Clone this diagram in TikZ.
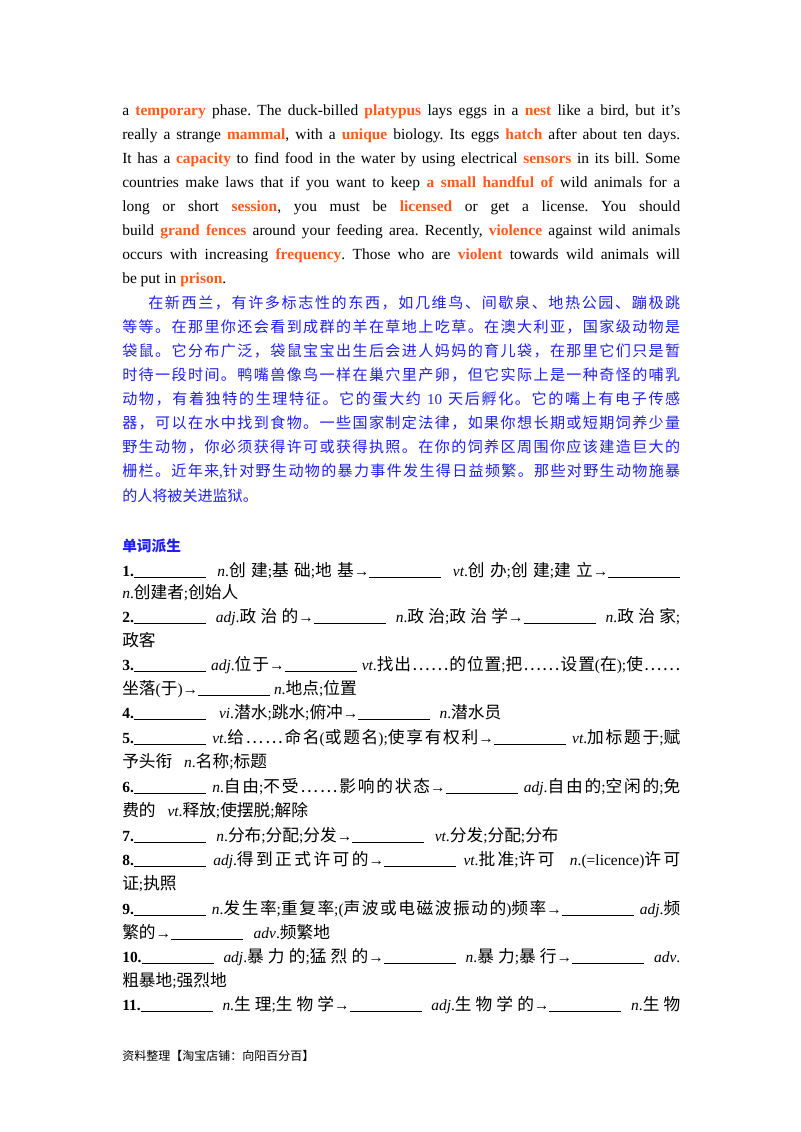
\documentclass[tikz,border=0pt]{standalone}
\usepackage{fontspec}
\setmainfont{Liberation Serif}
\newfontfamily\cjk{Noto Sans CJK SC}
\newfontfamily\cjkb[Scale=1.08]{Noto Sans CJK SC}
\frenchspacing
\XeTeXinterchartokenstate=1
\newXeTeXintercharclass\cjkclass
\makeatletter
\def\setcjkrange#1#2{\count@=#1\relax\loop\XeTeXcharclass\count@=\cjkclass\advance\count@ 1\relax\ifnum\count@<#2\repeat}
\makeatother
\setcjkrange{"4E00}{"A000}
\setcjkrange{"3000}{"3040}
\setcjkrange{"FF00}{"FFF0}
\XeTeXcharclass"2026=\cjkclass
\XeTeXinterchartoks 0 \cjkclass {\begingroup\cjk}
\XeTeXinterchartoks 4095 \cjkclass {\begingroup\cjk}
\XeTeXinterchartoks \cjkclass 0 {\endgroup}
\XeTeXinterchartoks \cjkclass 4095 {\endgroup}
\XeTeXinterchartoks \cjkclass \cjkclass {\hskip0pt plus 1pt\relax}
\definecolor{hl}{HTML}{FF5A1E}
\definecolor{cb}{HTML}{2020F0}
\newcommand{\hw}[1]{\textcolor{hl}{\textbf{#1}}}
\newcommand{\bl}{\rule[-1.2pt]{54pt}{0.8pt}}
\newcommand{\jl}[3]{\node[anchor=base west,inner sep=0pt] (#1) at (122,#2) {\hbox to 418.5pt{#3}};}
\newcommand{\nl}[3]{\node[anchor=base west,inner sep=0pt] (#1) at (122,#2) {#3};}
\begin{document}
\begin{tikzpicture}[x=0.75pt,y=-0.75pt,font=\fontsize{11.6pt}{13pt}\selectfont]
\useasboundingbox (0,0) rectangle (800,1132);
\fill[white] (0,0) rectangle (800,1132);
% English paragraph
\jl{e1}{115}{a \hw{temporary} phase. The duck-billed \hw{platypus} lays eggs in a \hw{nest} like a bird, but it's}
\jl{e2}{139}{really a strange \hw{mammal}, with a \hw{unique} biology. Its eggs \hw{hatch} after about ten days.}
\jl{e3}{163}{It has a \hw{capacity} to find food in the water by using electrical \hw{sensors} in its bill. Some}
\jl{e4}{187}{countries make laws that if you want to keep\hw{ a small handful of} wild animals for a}
\jl{e5}{211}{long or short\hw{ session}, you must be\hw{ licensed} or get a license. You should}
\jl{e6}{235}{build\hw{ grand fences} around your feeding area. Recently, \hw{violence} against wild animals}
\jl{e7}{259}{occurs with increasing \hw{frequency}. Those who are \hw{violent} towards wild animals will}
\nl{e8}{283}{be put in \hw{prison}.}
% Chinese paragraph
\begin{scope}[font=\fontsize{11.3pt}{13pt}\selectfont\color{cb}]
\node[anchor=base west,inner sep=0pt] (c1) at (148,308) {\hbox to 399pt{在新西兰，有许多标志性的东西，如几维鸟、间歇泉、地热公园、蹦极跳}};
\jl{c2}{332}{等等。在那里你还会看到成群的羊在草地上吃草。在澳大利亚，国家级动物是}
\jl{c3}{356}{袋鼠。它分布广泛，袋鼠宝宝出生后会进人妈妈的育儿袋，在那里它们只是暂}
\jl{c4}{380}{时待一段时间。鸭嘴兽像鸟一样在巢穴里产卵，但它实际上是一种奇怪的哺乳}
\jl{c5}{404}{动物，有着独特的生理特征。它的蛋大约 10 天后孵化。它的嘴上有电子传感}
\jl{c6}{428}{器，可以在水中找到食物。一些国家制定法律，如果你想长期或短期饲养少量}
\jl{c7}{452}{野生动物，你必须获得许可或获得执照。在你的饲养区周围你应该建造巨大的}
\jl{c8}{476}{栅栏。近年来,针对野生动物的暴力事件发生得日益频繁。那些对野生动物施暴}
\nl{c9}{501}{的人将被关进监狱。}
\end{scope}
\nl{title}{551}{\textcolor{cb}{\cjk\bfseries\fontsize{11pt}{13pt}\selectfont 单词派生}}
% items
\begin{scope}[font=\fontsize{11.6pt}{13pt}\selectfont\let\cjk\cjkb]
\jl{i1}{576}{\textbf{1.}\bl{} \textit{n}.创建;基础;地基→\bl{} \textit{vt}.创办;创建;建立→\bl}
\nl{i1b}{598}{\textit{n}.创建者;创始人}
\jl{i2}{622}{\textbf{2.}\bl{} \textit{adj}.政治的→\bl{} \textit{n}.政治;政治学→\bl{} \textit{n}.政治家;}
\nl{i2b}{646}{政客}
\jl{i3}{670}{\textbf{3.}\bl{} \textit{adj}.位于→\bl{} \textit{vt}.找出……的位置;把……设置(在);使……}
\nl{i3b}{694}{坐落(于)→\bl{} \textit{n}.地点;位置}
\nl{i4}{718}{\textbf{4.}\bl{}\hspace{7pt} \textit{vi}.潜水;跳水;俯冲→\bl{}\hspace{4pt} \textit{n}.潜水员}
\jl{i5}{743}{\textbf{5.}\bl{} \textit{vt}.给……命名(或题名);使享有权利→\bl{} \textit{vt}.加标题于;赋}
\nl{i5b}{767}{予头衔\hspace{6pt} \textit{n}.名称;标题}
\jl{i6}{792}{\textbf{6.}\bl{} \textit{n}.自由;不受……影响的状态→\bl{} \textit{adj}.自由的;空闲的;免}
\nl{i6b}{816}{费的\hspace{6pt} \textit{vt}.释放;使摆脱;解除}
\nl{i7}{841}{\textbf{7.}\bl{}\hspace{5pt} \textit{n}.分布;分配;分发→\bl{}\hspace{5pt} \textit{vt}.分发;分配;分布}
\jl{i8}{865}{\textbf{8.}\bl{} \textit{adj}.得到正式许可的→\bl{} \textit{vt}.批准;许可\hspace{6pt} \textit{n}.(=licence)许可}
\nl{i8b}{889}{证;执照}
\jl{i9}{914}{\textbf{9.}\bl{} \textit{n}.发生率;重复率;(声波或电磁波振动的)频率→\bl{} \textit{adj}.频}
\nl{i9b}{938}{繁的→\bl{}\hspace{5pt} \textit{adv}.频繁地}
\jl{i10}{962}{\textbf{10.}\bl{} \textit{adj}.暴力的;猛烈的→\bl{} \textit{n}.暴力;暴行→\bl{} \textit{adv}.}
\nl{i10b}{986}{粗暴地;强烈地}
\jl{i11}{1010}{\textbf{11.}\bl{} \textit{n}.生理;生物学→\bl{} \textit{adj}.生物学的→\bl{} \textit{n}.生物}
\end{scope}
\node[anchor=base west,inner sep=0pt,font=\cjk\fontsize{9pt}{11pt}\selectfont] (foot) at (122,1060) {资料整理【淘宝店铺：向阳百分百】};
\end{tikzpicture}
\end{document}
